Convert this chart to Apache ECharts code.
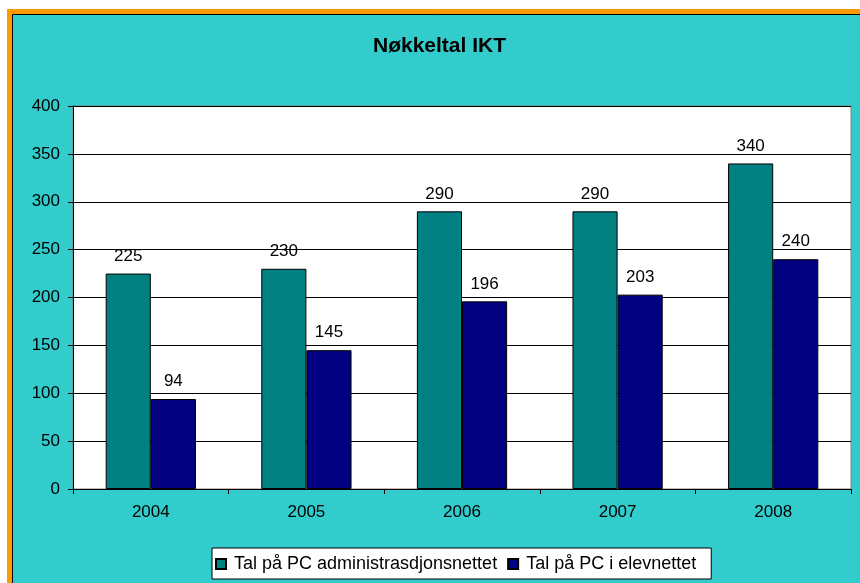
<!DOCTYPE html>
<html>
<head>
<meta charset="utf-8">
<script src="https://cdn.jsdelivr.net/npm/echarts@6/dist/echarts.min.js"></script>
<style>
	html, body { margin: 0; padding: 0; background: #ffffff; }
	#chart { width: 860px; height: 583px; }
</style>
</head>
<body>
<div id="chart"></div>
<script>
var years = ['2004', '2005', '2006', '2007', '2008'];
var adminPcs = [225, 230, 290, 290, 340];
var pupilPcs = [94, 145, 196, 203, 240];
var yTicks = [0, 50, 100, 150, 200, 250, 300, 350, 400];

var font = 'Liberation Sans, Arial, sans-serif';

var myChart = echarts.init(document.getElementById('chart'));
var option = {
	backgroundColor: '#ffffff',
	animation: false,
	// ramme rundt diagrammet
	graphic: [{
		type: 'rect',
		z: -10,
		shape: { x: 7, y: 9, width: 900, height: 700 },
		style: { fill: '#FF9900' }
	}, {
		type: 'rect',
		z: -9,
		shape: { x: 12.5, y: 14.5, width: 900, height: 700 },
		style: { fill: '#33CCCC', stroke: '#000000', lineWidth: 1 }
	}],
	title: {
		text: 'Nøkkeltal IKT',
		left: 368,
		top: 31,
		textStyle: { fontFamily: font, fontSize: 21, fontWeight: 'bold', color: '#000000' }
	},
	legend: {
		data: ['Tal på PC administrasdjonsnettet', 'Tal på PC i elevnettet'],
		bottom: 4,
		left: 212,
		backgroundColor: '#ffffff',
		borderColor: '#000000',
		borderWidth: 1,
		borderRadius: 0,
		padding: [7, 15, 6, 3],
		itemGap: 10,
		itemWidth: 10,
		itemHeight: 10,
		icon: 'rect',
		textStyle: { fontFamily: font, fontSize: 18, color: '#000000', padding: [0, 0, 0, 3] }
	},
	grid: {
		left: 73,
		right: 9,
		top: 106,
		bottom: 94,
		show: true,
		backgroundColor: '#ffffff',
		borderColor: '#808080',
		borderWidth: 1
	},
	xAxis: [{
		type: 'category',
		data: years,
		axisLine: { lineStyle: { color: '#000000' } },
		axisTick: { show: true, length: 5, lineStyle: { color: '#000000' } },
		axisLabel: { fontFamily: font, fontSize: 17, color: '#000000', margin: 15 }
	}],
	yAxis: [{
		type: 'value',
		min: 0,
		max: 400,
		interval: 50,
		axisLine: { show: true, lineStyle: { color: '#000000' } },
		axisTick: { show: true, length: 5, lineStyle: { color: '#000000' } },
		axisLabel: {
			fontFamily: font, fontSize: 17, color: '#000000', margin: 13,
			formatter: function(v) { return yTicks.indexOf(v) >= 0 ? String(v) : ''; }
		},
		splitLine: { lineStyle: { color: '#000000', width: 1 } }
	}],
	series: [{
		name: 'Tal på PC administrasdjonsnettet',
		type: 'bar',
		data: adminPcs,
		barGap: '0%',
		barCategoryGap: '42%',
		itemStyle: { color: '#008080', borderColor: '#000000', borderWidth: 1 },
		label: { show: true, position: 'top', distance: 9, fontFamily: font, fontSize: 17, color: '#000000' }
	}, {
		name: 'Tal på PC i elevnettet',
		type: 'bar',
		data: pupilPcs,
		itemStyle: { color: '#000080', borderColor: '#000000', borderWidth: 1 },
		label: { show: true, position: 'top', distance: 9, fontFamily: font, fontSize: 17, color: '#000000' }
	}]
};
myChart.setOption(option);
</script>
</body>
</html>
